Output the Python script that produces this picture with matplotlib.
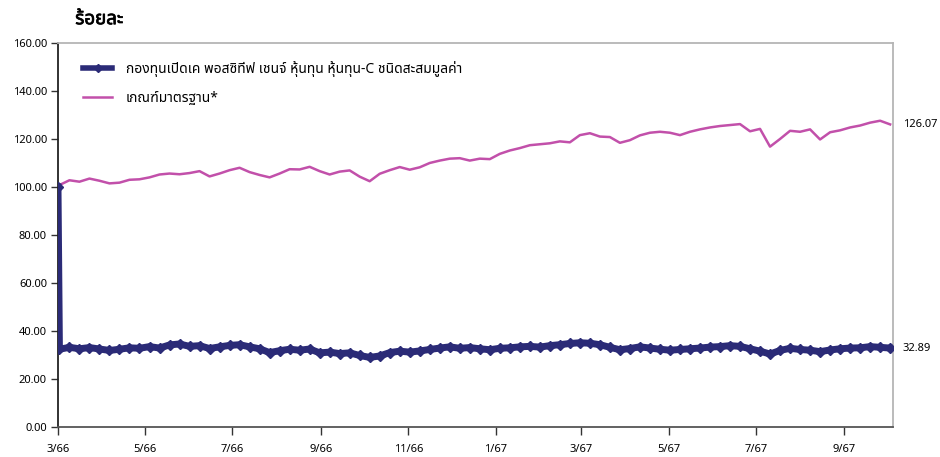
import matplotlib
matplotlib.use('Agg')
import numpy as np
import pandas as pd
import matplotlib.pyplot as plt
import matplotlib.dates as mdates
import matplotlib.patheffects as pe
from matplotlib import font_manager

# ---- data ----
start_date = '2023-03-01'
weekly_dates = pd.date_range('2023-03-02', periods=84, freq='7D')
dates = [pd.Timestamp(start_date)] + list(weekly_dates)

fund = [100.0,
        32.4, 33.2, 32.6, 33.1, 32.5, 31.9, 32.4, 33.0, 32.8, 33.5,
        32.9, 34.2, 34.6, 33.6, 33.9, 32.7, 33.4, 34.0, 34.3, 33.4,
        32.6, 31.0, 31.8, 32.4, 32.0, 32.5, 30.9, 31.2, 30.6, 30.9,
        29.8, 29.0, 29.6, 31.0, 31.6, 31.2, 31.7, 32.3, 32.9, 33.4,
        32.8, 33.1, 32.6, 32.2, 32.8, 33.0, 33.4, 33.6, 33.3, 33.9,
        34.3, 34.8, 35.1, 34.9, 34.3, 33.2, 32.2, 32.7, 33.4, 32.9,
        32.4, 32.0, 32.3, 32.6, 32.9, 33.3, 33.5, 33.9, 33.6, 32.6,
        31.6, 30.4, 31.9, 32.8, 32.3, 32.0, 31.4, 32.1, 32.6, 32.9,
        33.0, 33.5, 33.2, 32.89]

bench = [100.0,
         100.8, 102.8, 102.2, 103.5, 102.6, 101.5, 101.8, 103.0, 103.2, 104.0,
         105.2, 105.6, 105.3, 105.8, 106.6, 104.4, 105.6, 107.0, 108.0, 106.2,
         105.0, 104.0, 105.6, 107.4, 107.3, 108.4, 106.6, 105.2, 106.4, 106.9,
         104.3, 102.4, 105.5, 107.0, 108.3, 107.2, 108.2, 110.0, 111.0, 111.8,
         112.0, 111.0, 111.8, 111.6, 113.8, 115.2, 116.2, 117.4, 117.8, 118.2,
         119.0, 118.6, 121.6, 122.4, 121.0, 120.8, 118.4, 119.5, 121.5, 122.6,
         123.0, 122.6, 121.6, 123.0, 124.0, 124.8, 125.4, 125.8, 126.2, 123.2,
         124.2, 116.8, 120.0, 123.4, 123.0, 124.0, 119.8, 122.8, 123.6, 124.8,
         125.6, 126.8, 127.6, 126.07]

fund_label = 'กองทุนเปิดเค พอสซิทีฟ เชนจ์ หุ้นทุน หุ้นทุน-C ชนิดสะสมมูลค่า'
bench_label = 'เกณฑ์มาตรฐาน*'
y_title = 'ร้อยละ'

# pick a Thai-capable font that is installed
names = set(f.name for f in font_manager.fontManager.ttflist)
thai_font = 'DejaVu Sans'
for cand in ['Noto Sans Thai', 'Noto Sans Thai UI', 'Sarabun', 'IBM Plex Sans Thai',
             'Anuphan', 'Prompt', 'Kanit', 'Bai Jamjuree']:
    if cand in names:
        thai_font = cand
        break
plt.rcParams['font.family'] = [thai_font, 'Noto Sans', 'DejaVu Sans']
bold_path = font_manager.findfont(font_manager.FontProperties(family=thai_font, weight='bold'))
has_bold = 'bold' in bold_path.lower()

fund_color = '#2B2B77'
bench_color = '#C250AA'
num_font = ['Noto Sans', 'DejaVu Sans']

fig = plt.figure(figsize=(9.4, 4.57), dpi=100)
ax = fig.add_axes([0.0617, 0.0656, 0.8883, 0.8404])

l_bench, = ax.plot(dates, bench, color=bench_color, lw=1.8, zorder=2)
l_fund, = ax.plot(dates, fund, color=fund_color, lw=5.0, marker='D', markersize=5,
                  zorder=3)

ax.set_ylim(0, 160)
ax.set_yticks(np.arange(0, 161, 20))
ax.yaxis.set_major_formatter(matplotlib.ticker.FormatStrFormatter('%.2f'))
ax.set_xlim(pd.Timestamp('2023-03-01'), dates[-1] + pd.Timedelta(days=2))
ax.xaxis.set_major_locator(mdates.MonthLocator(bymonth=[1, 3, 5, 7, 9, 11]))
ax.xaxis.set_major_formatter(
    matplotlib.ticker.FuncFormatter(
        lambda v, p: '%d/%d' % (mdates.num2date(v).month, (mdates.num2date(v).year + 543) % 100)))

for lab in ax.get_xticklabels() + ax.get_yticklabels():
    lab.set_fontfamily(num_font)
ax.tick_params(axis='y', labelsize=8, length=5, width=1, color='#333333', pad=3)
ax.tick_params(axis='x', labelsize=8, length=6, width=1, color='#333333', pad=6)

ax.spines['left'].set_color('#222222')
ax.spines['left'].set_linewidth(1.3)
ax.spines['bottom'].set_color('#555555')
ax.spines['bottom'].set_linewidth(1.3)
for s in ['top', 'right']:
    ax.spines[s].set_color('#B5B5B5')
    ax.spines[s].set_linewidth(1.3)

leg = ax.legend([l_fund, l_bench], [fund_label, bench_label], loc='upper left',
                bbox_to_anchor=(0.015, 0.985), frameon=False, fontsize=10,
                handlelength=2.1, labelspacing=1.0, handletextpad=1.0)
leg.legend_handles[0].set_markersize(4)
leg.legend_handles[0].set_linewidth(4)

# end-value labels
for v in [bench[-1], fund[-1]]:
    ax.annotate('%.2f' % v, xy=(1.0, v), xycoords=('axes fraction', 'data'),
                xytext=(7, 0), textcoords='offset points', va='center', ha='left',
                fontsize=8, family=num_font)

t = fig.text(0.08, 0.958, y_title, fontsize=13.5, fontweight='bold', va='center', ha='left')
if not has_bold:
    t.set_path_effects([pe.withStroke(linewidth=0.5, foreground='black')])

fig.savefig('out.png', dpi=100)
